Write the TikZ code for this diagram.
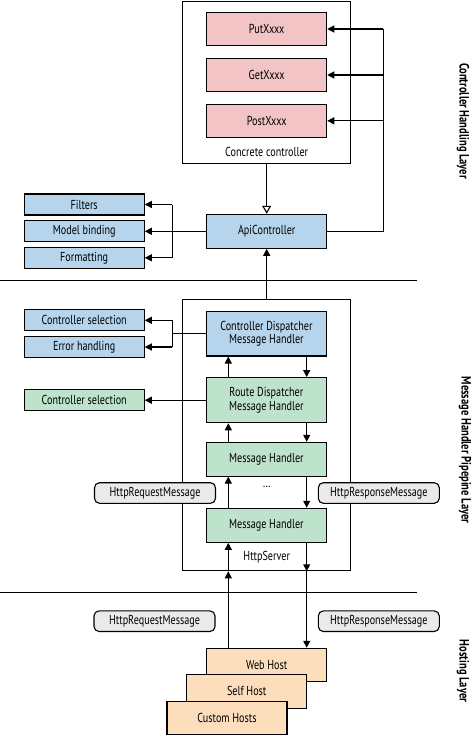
\documentclass[tikz,border=0pt]{standalone}
\usepackage{fontspec}
\setmainfont{PT Sans}[FakeStretch=0.78]
\usepackage{tikz}
\usetikzlibrary{arrows.meta,positioning,calc}
\definecolor{ctrlpink}{RGB}{242,196,198}
\definecolor{ctrlblue}{RGB}{182,213,236}
\definecolor{pipegreen}{RGB}{190,227,205}
\definecolor{hostpeach}{RGB}{252,222,188}
\definecolor{msggray}{RGB}{234,234,234}

\begin{document}
\begin{tikzpicture}[x=1pt, y=-1pt,
  box/.style={draw, line width=1.1pt, minimum width=120pt, align=center, inner sep=1pt, font=\fontsize{13}{13.5}\selectfont},
  side/.style={box, minimum height=21pt},
  msg/.style={draw, line width=1.1pt, rounded corners=5pt, fill=msggray, minimum width=121pt, minimum height=20.6pt, inner sep=1pt, font=\fontsize{13}{13.5}\selectfont},
  frame/.style={draw, line width=1.1pt},
  txt/.style={font=\fontsize{13}{13.5}\selectfont},
  layer/.style={rotate=-90, font=\fontsize{13.5}{14}\selectfont\bfseries},
  link/.style={line width=1.1pt},
  arr/.style={-{Triangle[length=7pt,width=7pt]}, line width=1.1pt}
]
\useasboundingbox (0,0) rectangle (474,736);

% controller handling layer
\node[frame, minimum width=168pt, minimum height=162pt, anchor=north] (concrete) at (266.7,0.6) {};
\node[box, fill=ctrlpink, minimum height=33.4pt] (put) at (266.7,29) {PutXxxx};
\node[box, fill=ctrlpink, minimum height=33.4pt] (get) at (266.7,75) {GetXxxx};
\node[box, fill=ctrlpink, minimum height=33.4pt] (post) at (266.7,120.8) {PostXxxx};
\node[txt] (cclabel) at (266.7,151.5) {Concrete controller};
\node[box, fill=ctrlblue, minimum height=34pt] (api) at (266.7,231.3) {ApiController};
\node[side, fill=ctrlblue] (filters) at (84.2,204.5) {Filters};
\node[side, fill=ctrlblue] (binding) at (84.2,231.3) {Model binding};
\node[side, fill=ctrlblue] (formatting) at (84.2,257.8) {Formatting};

% message handler pipeline layer
\node[frame, minimum width=168pt, minimum height=271.4pt] (server) at (266.7,435) {};
\node[box, fill=ctrlblue, minimum height=44.3pt] (cdisp) at (266.4,333.8) {Controller Dispatcher\\Message Handler};
\node[box, fill=pipegreen, minimum height=45pt] (rdisp) at (266.4,400.2) {Route Dispatcher\\Message Handler};
\node[box, fill=pipegreen, minimum height=33.7pt] (mh1) at (266.4,459.2) {Message Handler};
\node[box, fill=pipegreen, minimum height=34pt] (mh2) at (266.4,525.3) {Message Handler};
\node[txt] (dots) at (266.7,487) {\dots};
\node[txt] (srvlabel) at (266.7,556.7) {HttpServer};
\node[side, fill=ctrlblue] (csel1) at (84.2,320.3) {Controller selection};
\node[side, fill=ctrlblue] (errh) at (84.2,347) {Error handling};
\node[side, fill=pipegreen] (csel2) at (84.2,400.2) {Controller selection};
\node[msg] (req1) at (155,493) {HttpRequestMessage};
\node[msg] (resp1) at (378.8,493) {HttpResponseMessage};

% hosting layer
\node[msg] (req2) at (154.5,621.2) {HttpRequestMessage};
\node[msg] (resp2) at (378.8,621.2) {HttpResponseMessage};
\node[box, fill=hostpeach, minimum height=33.4pt] (web) at (266.7,665) {Web Host};
\node[box, fill=hostpeach, minimum height=34pt] (self) at (246.7,691.3) {Self Host};
\node[box, fill=hostpeach, minimum height=33pt] (custom) at (227,718) {Custom Hosts};

% layer separators and labels
\draw[link] (0,280.7) -- (417,280.7);
\draw[link] (0,592.7) -- (417,592.7);
\node[layer] (ctrllayer) at (463,121) {Controller Handling Layer};
\node[layer] (pipelayer) at (465,450) {Message Handler Pipepine Layer};
\node[layer] (hostlayer) at (463,671) {Hosting Layer};

% connectors
\coordinate (rbus) at (383.3,0);
\coordinate (lbus) at (172.3,0);
\coordinate (up) at (228.3,0);
\coordinate (dn) at (306.7,0);
\draw[link] (api.east) -| (rbus |- put.east);
\foreach \n in {put, get, post}
  \draw[arr] (rbus |- \n.east) -- (\n.east);
\draw[-{Triangle[open,length=8pt,width=9pt]}, line width=1.1pt] (concrete.south) -- (api.north);
\draw[arr] (api.west) -- (binding.east);
\draw[link] (lbus |- filters.east) -- (lbus |- formatting.east);
\draw[arr] (lbus |- filters.east) -- (filters.east);
\draw[arr] (lbus |- formatting.east) -- (formatting.east);
\draw[arr] (server.north) -- (api.south);
\draw[link] (cdisp.west) -- (lbus |- cdisp.west);
\draw[link] (lbus |- csel1.east) -- (lbus |- errh.east);
\draw[arr] (lbus |- csel1.east) -- (csel1.east);
\draw[arr] (lbus |- errh.east) -- (errh.east);
\draw[arr] (rdisp.west) -- (csel2.east);
\foreach \a/\b in {rdisp/cdisp, mh1/rdisp, mh2/mh1}
  \draw[arr] (up |- \a.north) -- (up |- \b.south);
\foreach \a/\b in {cdisp/rdisp, rdisp/mh1, mh1/mh2}
  \draw[arr] (dn |- \a.south) -- (dn |- \b.north);
\draw[arr] (up |- server.south) -- (up |- mh2.south);
\draw[arr] (up |- web.north) -- (up |- server.south);
\draw[arr] (dn |- mh2.south) -- (dn |- server.south);
\draw[arr] (dn |- server.south) -- (dn |- web.north);
\end{tikzpicture}
\end{document}
